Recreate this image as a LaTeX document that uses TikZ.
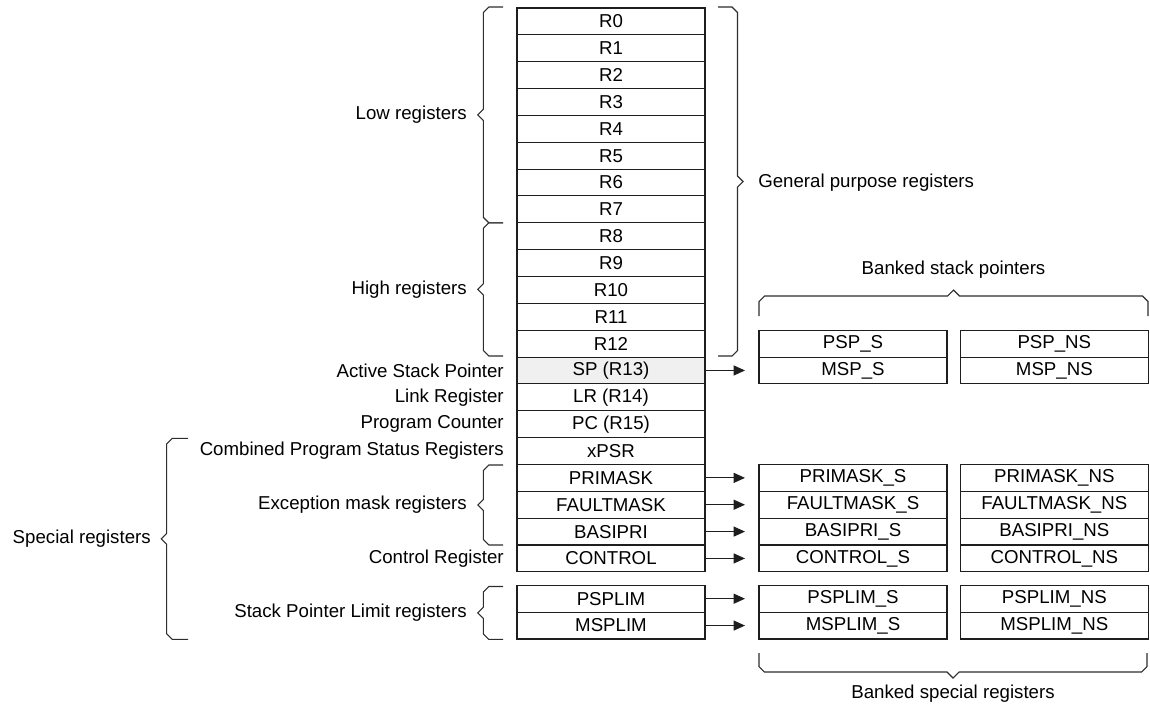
\documentclass[tikz,border=0pt]{standalone}
\usepackage{fontspec}
\setmainfont{Liberation Sans}
\usepackage{xcolor}
\usepackage{tikz}
\usetikzlibrary{arrows.meta, positioning, calc}
\definecolor{RegLine}{RGB}{30, 30, 30}
\definecolor{RegBrace}{RGB}{45, 45, 45}
\definecolor{RegActive}{RGB}{240, 240, 240}

\tikzset{
  regbox/.style={
    draw=RegLine, line width=0.8pt, fill=white,
    minimum width=141pt, minimum height=20.1375pt,
    inner sep=0pt, outer sep=0pt,
    font=\fontsize{14}{16}\selectfont
  },
  reglabel/.style={inner sep=0pt, font=\fontsize{14}{16}\selectfont},
  bankarrow/.style={-{Triangle[length=8.5pt, width=7.5pt]}, draw=RegLine, line width=0.8pt},
  regbrace/.style={draw=RegBrace, line width=0.8pt}
}

% vertical brace: x of the open ends, x of the spine, top y, bottom y
\newcommand{\vregbrace}[4]{%
  \draw[regbrace] (#1,#3) -- ({#2+5.5*sign(#1-#2)},#3) -- (#2,{#3+5.5})
    -- (#2,{(#3+#4)/2-5.5}) -- ({#2-5.5*sign(#1-#2)},{(#3+#4)/2})
    -- (#2,{(#3+#4)/2+5.5}) -- (#2,{#4-5.5})
    -- ({#2+5.5*sign(#1-#2)},#4) -- (#1,#4);}
% horizontal brace: left x, right x, y of the open ends, y of the spine
\newcommand{\hregbrace}[4]{%
  \draw[regbrace] (#1,#3) -- (#1,{#4+5.5*sign(#3-#4)}) -- ({#1+5.5},#4)
    -- ({(#1+#2)/2-6},#4) -- ({(#1+#2)/2},{#4-6*sign(#3-#4)})
    -- ({(#1+#2)/2+6},#4) -- ({#2-5.5},#4)
    -- (#2,{#4+5.5*sign(#3-#4)}) -- (#2,#3);}

\begin{document}
\begin{tikzpicture}[x=0.75pt, y=-0.75pt]
  \useasboundingbox (0,0) rectangle (1150,708);

  % register file
  \node[regbox] (r0) at (611,21.425) {R0};
  \foreach \i [remember=\i as \j (initially 0)] in {1,...,12}
    \node[regbox, below=0pt of r\j] (r\i) {R\i};
  \node[regbox, fill=RegActive, below=0pt of r12] (sp) {SP (R13)};
  \node[regbox, below=0pt of sp] (lr) {LR (R14)};
  \node[regbox, below=0pt of lr] (pc) {PC (R15)};
  \node[regbox, below=0pt of pc] (xpsr) {xPSR};
  \node[regbox, below=0pt of xpsr] (primask) {PRIMASK};
  \node[regbox, below=0pt of primask] (faultmask) {FAULTMASK};
  \node[regbox, below=0pt of faultmask] (basepri) {BASIPRI};
  \node[regbox, below=0pt of basepri] (control) {CONTROL};
  \node[regbox, below=10.07pt of control] (psplim) {PSPLIM};
  \node[regbox, below=0pt of psplim] (msplim) {MSPLIM};

  % banked copies
  \node[regbox, right=40.5pt of r12] (pspS) {PSP\_S};
  \node[regbox, right=10pt of pspS] (pspNS) {PSP\_NS};
  \foreach \reg/\txt in {sp/MSP, primask/PRIMASK, faultmask/FAULTMASK,
      basepri/BASIPRI, control/CONTROL, psplim/PSPLIM, msplim/MSPLIM} {
    \node[regbox, right=40.5pt of \reg] (\reg S) {\txt\_S};
    \node[regbox, right=10pt of \reg S] (\reg NS) {\txt\_NS};
    \draw[bankarrow, shorten >=10.5pt] (\reg.east) -- (\reg S.west);
  }

  % single-row labels
  \node[reglabel, left=9.75pt of sp] (spLabel) {Active Stack Pointer};
  \node[reglabel, left=9.75pt of lr] (lrLabel) {Link Register};
  \node[reglabel, left=9.75pt of pc] (pcLabel) {Program Counter};
  \node[reglabel, left=9.75pt of xpsr] (xpsrLabel) {Combined Program Status Registers};
  \node[reglabel, left=9.75pt of control] (controlLabel) {Control Register};

  % braces
  \vregbrace{503}{483.3}{7}{222.8}
  \vregbrace{503}{483.3}{222.8}{356}
  \vregbrace{718}{737.5}{7}{356}
  \vregbrace{503}{483.3}{465}{545}
  \vregbrace{503}{483.3}{586.5}{639.3}
  \vregbrace{188}{166.7}{438.3}{639.3}
  \hregbrace{759}{1148}{316}{296}
  \hregbrace{759}{1147}{653}{672}

  % group labels
  \node[reglabel, anchor=east] (lowLabel) at (467,115) {Low registers};
  \node[reglabel, anchor=east] (highLabel) at (467,289.5) {High registers};
  \node[reglabel, anchor=west] (gpLabel) at (758,182.5) {General purpose registers};
  \node[reglabel, anchor=east] (excLabel) at (467,505) {Exception mask registers};
  \node[reglabel, anchor=east] (splimLabel) at (467,613) {Stack Pointer Limit registers};
  \node[reglabel, anchor=east] (specialLabel) at (151,538.8) {Special registers};
  \node[reglabel] (bankSpLabel) at (953.5,270) {Banked stack pointers};
  \node[reglabel] (bankSpecLabel) at (953,694) {Banked special registers};
\end{tikzpicture}
\end{document}
